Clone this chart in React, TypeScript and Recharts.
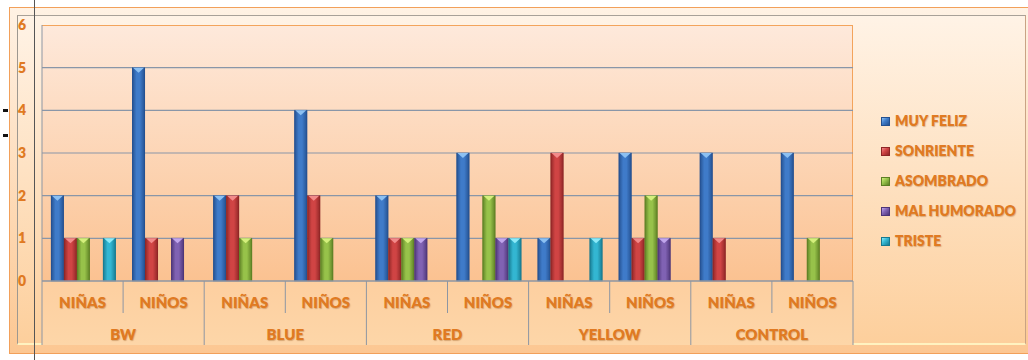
import { BarChart, Bar, XAxis, YAxis, CartesianGrid } from "recharts"

const groups = ["BW", "BLUE", "RED", "YELLOW", "CONTROL"]
const genders = ["NIÑAS", "NIÑOS"]
const yTicks = [0, 1, 2, 3, 4, 5, 6]

// one value per group/gender column, in order BW NIÑAS, BW NIÑOS, BLUE NIÑAS ...
const muyFeliz = [2, 5, 2, 4, 2, 3, 1, 3, 3, 3]
const sonriente = [1, 1, 2, 2, 1, 0, 3, 1, 1, 0]
const asombrado = [1, 0, 1, 1, 1, 2, 0, 2, 0, 1]
const malHumorado = [0, 1, 0, 0, 1, 1, 0, 1, 0, 0]
const triste = [1, 0, 0, 0, 0, 1, 1, 0, 0, 0]

const series = [
  { key: "muyFeliz", name: "MUY FELIZ", values: muyFeliz, dark: "#24508f", base: "#3f7bc9", cap: "#8cc0f2" },
  { key: "sonriente", name: "SONRIENTE", values: sonriente, dark: "#8e2626", base: "#d04444", cap: "#f28a8a" },
  { key: "asombrado", name: "ASOMBRADO", values: asombrado, dark: "#5d7f24", base: "#97c24a", cap: "#d4ef7c" },
  { key: "malHumorado", name: "MAL HUMORADO", values: malHumorado, dark: "#4d3577", base: "#8062b3", cap: "#c0a6ec" },
  { key: "triste", name: "TRISTE", values: triste, dark: "#17798f", base: "#33b6d2", cap: "#8ceaf8" },
]

const data = groups.flatMap((g, gi) =>
  genders.map((s, si) => {
    const i = gi * genders.length + si
    const row: Record<string, string | number> = { id: `${g}-${s}`, group: g, gender: s }
    series.forEach((se) => (row[se.key] = se.values[i]))
    return row
  })
)

const W = 1028
const H = 360
const PLOT_L = 42
const PLOT_R = 853
const PLOT_T = 25
const PLOT_B = 281
const BAND = (PLOT_R - PLOT_L) / data.length
const LABEL = "#e07a22"
const FONT = "Lato, 'Liberation Sans', sans-serif"
const SHADOW = "0.5px 0.5px 1px rgba(150,80,20,0.35)"

function CylBar(props: any) {
  const { x, y, width, height, sk } = props
  if (!height || height <= 0) return null
  const se = series.find((s) => s.key === sk)!
  return (
    <g>
      <rect x={x} y={y} width={width} height={height} fill={`url(#grad-${sk})`} />
      <rect x={x + 0.5} y={y} width={width - 1} height={height} fill="none" stroke={se.dark} strokeOpacity={0.5} />
      <polygon points={`${x + 1},${y} ${x + width - 1},${y} ${x + width / 2},${y + 5}`} fill={se.cap} />
    </g>
  )
}

function CategoryTick(props: any) {
  const { x, index } = props
  const row = data[index]
  const left = x - BAND / 2
  const groupStart = index % genders.length === 0
  const last = index === data.length - 1
  return (
    <g>
      <line x1={left} x2={left} y1={PLOT_B} y2={groupStart ? 345 : 313} stroke="#8d96a3" />
      {last && <line x1={x + BAND / 2} x2={x + BAND / 2} y1={PLOT_B} y2={345} stroke="#8d96a3" />}
      <text
        x={x} y={308} textAnchor="middle" fill={LABEL} fontSize={15} fontWeight={800} fontFamily={FONT}
        style={{ textShadow: SHADOW }}
      >
        {row.gender}
      </text>
      {groupStart && (
        <text
          x={left + BAND} y={340} textAnchor="middle" fill={LABEL} fontSize={15} fontWeight={800} fontFamily={FONT}
          style={{ textShadow: SHADOW }}
        >
          {row.group}
        </text>
      )}
    </g>
  )
}

export default function App() {
  return (
    <div style={{ position: "absolute", left: 0, top: 0, width: W, height: H, overflow: "hidden", background: "#fff" }}>
      <svg width={0} height={0} style={{ position: "absolute" }}>
        <defs>
          {series.map((s) => (
            <linearGradient key={s.key} id={`grad-${s.key}`} x1="0" y1="0" x2="1" y2="0">
              <stop offset="0%" stopColor={s.dark} />
              <stop offset="35%" stopColor={s.base} />
              <stop offset="60%" stopColor={s.base} />
              <stop offset="100%" stopColor={s.dark} />
            </linearGradient>
          ))}
        </defs>
      </svg>

      {/* outer frame */}
      <div
        style={{
          position: "absolute", left: 9, top: 7, width: 1040, height: 345,
          border: "1.5px solid #f2a05a", background: "linear-gradient(#fff2e4, #fcc792)",
        }}
      />
      {/* inner frame */}
      <div
        style={{
          position: "absolute", left: 17, top: 15, width: 1007, height: 327,
          borderLeft: "1.5px solid #9d9890", borderTop: "1.5px solid #a8a198", borderRight: "1.5px solid #c9a384",
          borderBottom: "2px solid #fff2c0", background: "linear-gradient(#fff3e6, #fdcf9c)",
        }}
      />
      {/* plot area */}
      <div
        style={{
          position: "absolute", left: PLOT_L, top: PLOT_T, width: PLOT_R - PLOT_L, height: PLOT_B - PLOT_T,
          borderTop: "1px solid #f3a45c", borderRight: "1px solid #f3a45c", boxSizing: "border-box",
          background: "linear-gradient(#fee9db, #fbc291)",
        }}
      />
      {/* category band */}
      <div
        style={{
          position: "absolute", left: PLOT_L, top: PLOT_B, width: PLOT_R - PLOT_L, height: 64,
          background: "linear-gradient(#fdcfa0, #fdd6a8)",
        }}
      />

      <div style={{ position: "absolute", left: 0, top: 0 }}>
        <BarChart
          width={W}
          height={H}
          data={data}
          margin={{ top: PLOT_T, right: W - PLOT_R, left: PLOT_L - 20, bottom: H - PLOT_B - 64 }}
          barCategoryGap="11%"
          barGap={0}
        >
          <CartesianGrid vertical={false} horizontalValues={[1, 2, 3, 4, 5]} stroke="#8996a8" strokeWidth={1.2} />
          <YAxis
            width={20}
            domain={[0, 6]}
            ticks={yTicks}
            interval={0}
            tickLine={false}
            tickSize={0}
            tickMargin={16}
            axisLine={{ stroke: "#8d96a3" }}
            tick={{ fill: LABEL, fontSize: 14, fontWeight: 800, fontFamily: FONT }}
          />
          <XAxis
            dataKey="id"
            height={64}
            interval={0}
            tickLine={false}
            axisLine={{ stroke: "#8d96a3", strokeWidth: 1.5 }}
            tick={<CategoryTick />}
          />
          {series.map((s) => (
            <Bar
              key={s.key}
              dataKey={s.key}
              name={s.name}
              fill={s.base}
              isAnimationActive={false}
              shape={(p: any) => <CylBar {...p} sk={s.key} />}
            />
          ))}
        </BarChart>
      </div>

      {/* legend */}
      <div style={{ position: "absolute", left: 881, top: 106 }}>
        {series.map((s) => (
          <div key={s.key} style={{ display: "flex", alignItems: "center", height: 30 }}>
            <span
              style={{
                width: 9, height: 9, marginRight: 5, boxSizing: "border-box",
                background: `linear-gradient(135deg, ${s.cap}, ${s.base} 45%, ${s.dark})`,
                border: `1px solid ${s.dark}`,
              }}
            />
            <span
              style={{
                color: LABEL, fontFamily: FONT, fontWeight: 800, fontSize: 14, lineHeight: "14px",
                textShadow: SHADOW,
              }}
            >
              {s.name}
            </span>
          </div>
        ))}
      </div>

      {/* stray marks on the page */}
      <div style={{ position: "absolute", left: 34, top: 0, width: 1, height: H, background: "#555" }} />
      <div style={{ position: "absolute", left: 3, top: 109, width: 5, height: 3, background: "#111" }} />
      <div style={{ position: "absolute", left: 3, top: 134, width: 5, height: 3, background: "#111" }} />
    </div>
  )
}
